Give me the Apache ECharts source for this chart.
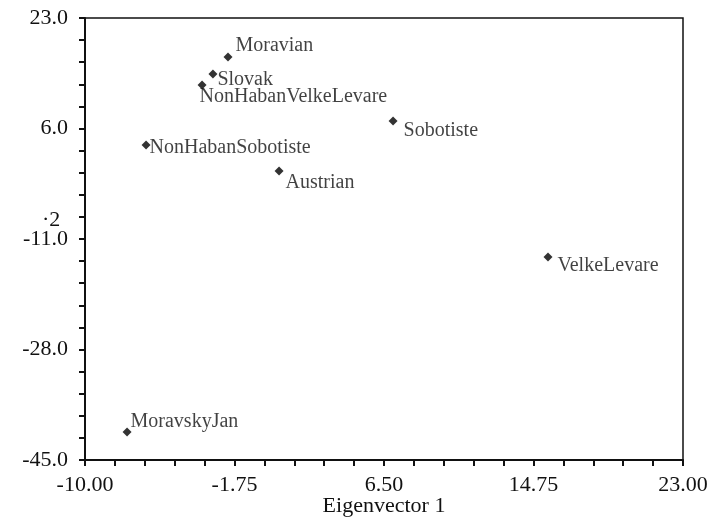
<!DOCTYPE html>
<html>
<head>
<meta charset="utf-8">
<script src="https://cdn.jsdelivr.net/npm/echarts@6/dist/echarts.min.js"></script>
<style>
html, body { margin: 0; padding: 0; background: #fff; }
#chart { width: 712px; height: 518px; }
</style>
</head>
<body>
<div id="chart"></div>
<script>
var names = ['Moravian', 'Slovak', 'NonHabanVelkeLevare', 'Sobotiste', 'NonHabanSobotiste', 'Austrian', 'VelkeLevare', 'MoravskyJan'];
var xValues = [-2.11, -2.94, -3.54, 7.0, -6.63, 0.71, 15.55, -7.68];
var yValues = [17.0, 14.38, 12.69, 7.15, 3.46, -0.54, -13.77, -40.69];
var xTicks = [-10, -1.75, 6.5, 14.75, 23];
var yTicks = [-45, -28, -11, 6, 23];

// label offsets (px) per point
var labelPos = [[12, -7], [9, 10], [2, 16], [15, 14], [8, 7], [11, 16], [14, 13], [8, -6]];

var font = '"Liberation Serif", "Times New Roman", serif';
var points = [];
for (var i = 0; i < names.length; i++) {
    points.push({
        name: names[i],
        value: [xValues[i], yValues[i]],
        label: { position: labelPos[i] }
    });
}

var myChart = echarts.init(document.getElementById('chart'));
var option = {
    animation: false,
    textStyle: { fontFamily: font },
    grid: {
        left: 85, right: 29, top: 18, bottom: 58,
        outerBoundsMode: 'none',
        containLabel: false,
        show: true,
        borderColor: '#111',
        borderWidth: 1.5
    },
    graphic: [{
        type: 'text',
        left: 42,
        top: 209,
        style: { text: '·2', font: '22px "Liberation Serif", serif', fill: '#111' }
    }],
    xAxis: {
        type: 'value',
        min: xTicks[0],
        max: xTicks[xTicks.length - 1],
        interval: 8.25,
        name: 'Eigenvector 1',
        nameLocation: 'middle',
        nameGap: 35,
        nameMoveOverlap: false,
        nameTextStyle: { fontSize: 22, color: '#111', fontFamily: font, verticalAlign: 'top' },
        splitLine: { show: false },
        axisLine: { show: true, onZero: false, lineStyle: { color: '#111', width: 2 } },
        axisTick: { show: true, length: 6, lineStyle: { color: '#111', width: 2 } },
        minorTick: { show: true, splitNumber: 5, length: 6, lineStyle: { color: '#111', width: 2 } },
        axisLabel: {
            fontSize: 22, color: '#111', fontFamily: font, margin: 14,
            formatter: function (v) { return v.toFixed(2); }
        }
    },
    yAxis: {
        type: 'value',
        min: yTicks[0],
        max: yTicks[yTicks.length - 1],
        interval: 17,
        splitLine: { show: false },
        axisLine: { show: true, onZero: false, lineStyle: { color: '#111', width: 2 } },
        axisTick: { show: true, length: 6, lineStyle: { color: '#111', width: 2 } },
        minorTick: { show: true, splitNumber: 5, length: 6, lineStyle: { color: '#111', width: 2 } },
        axisLabel: {
            fontSize: 22, color: '#111', fontFamily: font, margin: 17,
            formatter: function (v) { return v.toFixed(1); }
        }
    },
    series: [{
        type: 'scatter',
        symbol: 'diamond',
        symbolSize: 9,
        itemStyle: { color: '#000' },
        label: {
            show: true,
            formatter: '{b}',
            align: 'left',
            verticalAlign: 'middle',
            fontSize: 20,
            color: '#111',
            fontFamily: font
        },
        data: points
    }]
};
myChart.setOption(option, true);
</script>
</body>
</html>
